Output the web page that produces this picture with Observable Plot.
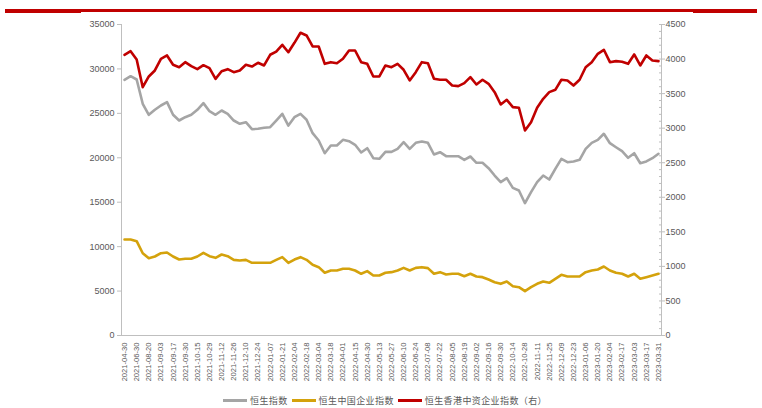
<!DOCTYPE html>
<html><head><meta charset="utf-8">
<script src="https://cdn.jsdelivr.net/npm/d3@7"></script>
<script src="https://cdn.jsdelivr.net/npm/@observablehq/plot@0.6"></script>
<style>
body{margin:0;background:#fff;width:762px;height:408px;position:relative;overflow:hidden;font-family:"Liberation Sans",Arial,sans-serif;}
#chart{position:absolute;left:0;top:0;}
.bar{position:absolute;background:#C00000;}
#legend{position:absolute;top:394px;left:223px;display:flex;align-items:center;font-family:"Noto Sans CJK SC",sans-serif;font-size:9px;color:#595959;white-space:nowrap;letter-spacing:0.4px;}
#legend .sw{display:inline-block;width:24px;height:2.5px;margin-right:3px;}
#legend .it{display:flex;align-items:center;margin-right:4px;}
</style></head><body>
<div class="bar" style="left:5px;top:9px;width:752px;height:2.5px"></div>
<div class="bar" style="left:5px;top:9px;width:76px;height:3.5px"></div>
<div class="bar" style="left:693px;top:9px;width:64px;height:3.5px"></div>
<div id="chart"></div>
<div id="legend"></div>
<script>
const dates = ["2021-04-30","2021-05-31","2021-06-30","2021-07-30","2021-08-20","2021-08-27","2021-09-03","2021-09-10","2021-09-17","2021-09-24","2021-09-30","2021-10-08","2021-10-15","2021-10-22","2021-10-29","2021-11-05","2021-11-12","2021-11-19","2021-11-26","2021-12-03","2021-12-10","2021-12-17","2021-12-24","2021-12-31","2022-01-07","2022-01-14","2022-01-21","2022-01-28","2022-02-04","2022-02-11","2022-02-18","2022-02-25","2022-03-04","2022-03-11","2022-03-18","2022-03-25","2022-04-01","2022-04-08","2022-04-15","2022-04-22","2022-04-30","2022-05-06","2022-05-13","2022-05-20","2022-05-27","2022-06-02","2022-06-10","2022-06-17","2022-06-24","2022-07-01","2022-07-08","2022-07-15","2022-07-22","2022-07-29","2022-08-05","2022-08-12","2022-08-19","2022-08-26","2022-09-02","2022-09-09","2022-09-16","2022-09-23","2022-09-30","2022-10-07","2022-10-14","2022-10-21","2022-10-28","2022-11-04","2022-11-11","2022-11-18","2022-11-25","2022-12-02","2022-12-09","2022-12-16","2022-12-23","2022-12-30","2023-01-06","2023-01-13","2023-01-20","2023-01-27","2023-02-04","2023-02-10","2023-02-17","2023-02-24","2023-03-03","2023-03-10","2023-03-17","2023-03-24","2023-03-31"];

// 恒生指数 (left axis)
const hsi = [28780,29180,28810,26075,24840,25400,25885,26260,24840,24195,
24570,24840,25400,26150,25240,24840,25320,24950,24195,23825,
24005,23220,23260,23375,23445,24195,24950,23630,24570,24950,
24275,22770,21945,20515,21380,21380,22020,21870,21460,20595,
21080,19955,19885,20670,20670,21010,21755,21010,21685,21830,
21685,20370,20630,20180,20180,20180,19770,20145,19435,19435,
18830,18005,17255,17705,16620,16320,14890,16130,17255,18005,
17555,18755,19885,19505,19585,19775,21010,21685,22020,22700,
21645,21190,20740,20000,20515,19390,19585,19955,20450];

// 恒生中国企业指数 (left axis)
const hscei = [10800,10800,10615,9260,8700,8890,9260,9340,8890,8550,
8630,8630,8890,9300,8930,8740,9115,8930,8515,8440,
8515,8180,8180,8180,8180,8515,8815,8180,8550,8815,
8515,7955,7690,7055,7315,7315,7505,7505,7315,6945,
7240,6750,6750,7055,7130,7315,7615,7315,7615,7690,
7580,6945,7130,6865,6945,6945,6675,6945,6640,6565,
6300,6000,5815,6075,5550,5440,4985,5440,5815,6075,
5930,6380,6830,6640,6640,6640,7130,7315,7430,7765,
7315,7055,6945,6640,6945,6380,6565,6750,6945];

// 恒生香港中资企业指数 (right axis)
const hscci = [4062,4114,3994,3593,3748,3835,4004,4052,3917,3882,
3955,3897,3854,3911,3868,3714,3824,3854,3810,3835,
3917,3892,3946,3907,4062,4109,4206,4099,4235,4380,
4341,4182,4182,3931,3955,3940,4004,4124,4124,3955,
3931,3748,3748,3907,3882,3931,3845,3690,3810,3955,
3940,3714,3700,3700,3617,3608,3651,3738,3632,3700,
3642,3521,3343,3410,3304,3295,2966,3087,3295,3425,
3521,3555,3700,3690,3617,3700,3882,3955,4076,4134,
3955,3970,3961,3931,4066,3907,4052,3979,3970];

const seriesNames = ["恒生指数","恒生中国企业指数","恒生香港中资企业指数（右）"];
const seriesColors = ["#A5A5A5","#D4A20C","#C00000"];
const leftTicks = [0,5000,10000,15000,20000,25000,30000,35000];
const rightTicks = [0,500,1000,1500,2000,2500,3000,3500,4000,4500];
const rightMinor = d3.range(0, 4501, 100);
const leftMax = 35000, rightMax = 4500;

const k = leftMax / rightMax;
const rows = dates.map((d, i) => ({i, d, hsi: hsi[i], hscei: hscei[i], hscci: hscci[i]}));
const labelIdx = dates.map((d, i) => i).filter(i => i % 2 === 0);
const axisColor = "#BFBFBF", textColor = "#595959";

const chart = Plot.plot({
  width: 762, height: 390,
  marginTop: 24, marginLeft: 121, marginRight: 101, marginBottom: 55,
  style: {fontFamily: "'Liberation Sans', Arial, sans-serif", fontSize: "9px", color: textColor, background: "transparent"},
  x: {type: "linear", domain: [-0.5, dates.length - 0.5]},
  y: {domain: [0, leftMax]},
  marks: [
    Plot.ruleY([0], {stroke: axisColor}),
    Plot.ruleX([-0.5, dates.length - 0.5], {stroke: axisColor}),
    Plot.axisY({anchor: "left", ticks: leftTicks, tickSize: 4, tickPadding: 3, label: null, stroke: axisColor, fill: textColor, tickFormat: d => String(d)}),
    Plot.axisY({anchor: "right", ticks: rightTicks.map(v => v * k), tickSize: 3, tickPadding: 1, label: null, stroke: axisColor, fill: textColor, tickFormat: d => String(Math.round(d / k))}),
    Plot.axisY({anchor: "right", ticks: rightMinor.map(v => v * k), tickSize: 3, dx: -3, label: null, stroke: axisColor, tickFormat: () => ""}),
    Plot.axisX({ticks: labelIdx, tickRotate: -90, tickSize: 0, tickPadding: 7, label: null, fill: textColor, fontSize: 7.6, tickFormat: i => dates[i]}),
    Plot.line(rows, {x: "i", y: "hsi", stroke: seriesColors[0], strokeWidth: 2.6}),
    Plot.line(rows, {x: "i", y: "hscei", stroke: seriesColors[1], strokeWidth: 2.6}),
    Plot.line(rows, {x: "i", y: d => d.hscci * k, stroke: seriesColors[2], strokeWidth: 2.6})
  ]
});
document.getElementById("chart").appendChild(chart);

const lg = document.getElementById("legend");
seriesNames.forEach((n, j) => {
  const it = document.createElement("span");
  it.className = "it";
  it.innerHTML = `<span class="sw" style="background:${seriesColors[j]}"></span><span>${n}</span>`;
  lg.appendChild(it);
});
</script>
</body></html>
